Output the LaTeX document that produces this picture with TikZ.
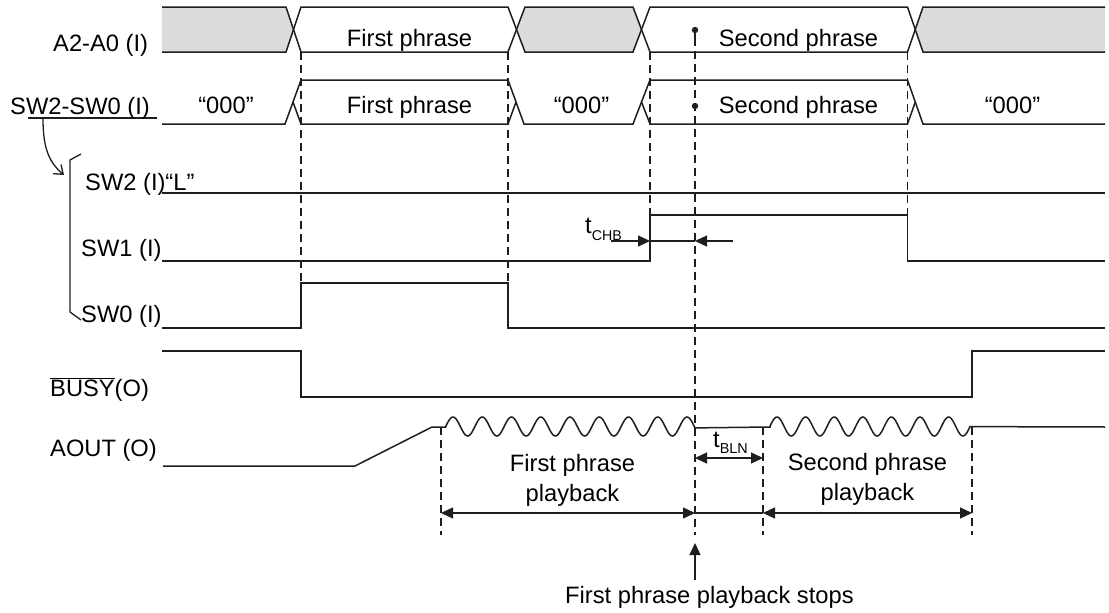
\documentclass[tikz,border=0pt]{standalone}
\usepackage{fontspec}
\setmainfont{Liberation Sans}
\usetikzlibrary{arrows.meta}
\definecolor{busgray}{RGB}{220,220,220}
\definecolor{ln}{RGB}{30,30,30}
\begin{document}
\begin{tikzpicture}[x=1pt,y=-1pt,
  sig/.style={draw=ln,line width=1.5pt,line join=miter},
  dsh/.style={draw=ln,line width=1.6pt,dash pattern=on 8pt off 5pt},
  txt/.style={inner sep=0pt,font=\fontsize{23.7}{30}\selectfont,text=black},
  lbl/.style={txt,anchor=base west},
  mid/.style={txt,anchor=base},
  dim/.style={draw=ln,line width=1.3pt},
  tipR/.style={-{Triangle[length=12pt,width=11pt]}},
  tipB/.style={{Triangle[length=12pt,width=11pt]}-{Triangle[length=12pt,width=11pt]}},
]
\useasboundingbox (0,0) rectangle (1109,613);

% ---- A2-A0 bus ----
\fill[busgray] (162,7) -- (286,7) -- (293.5,29.5) -- (286,52) -- (162,52) -- cycle;
\fill[busgray] (516.5,29.5) -- (525,7) -- (633,7) -- (641.5,29.5) -- (633,52) -- (525,52) -- cycle;
\fill[busgray] (915,29.5) -- (923,7) -- (1105,7) -- (1105,52) -- (923,52) -- cycle;
\draw[sig] (162,7) -- (286,7) -- (301,52) -- (508,52) -- (525,7) -- (633,7) -- (650,52) -- (907.5,52) -- (923,7) -- (1105,7);
\draw[sig] (162,52) -- (286,52) -- (301,7) -- (508,7) -- (525,52) -- (633,52) -- (650,7) -- (907.5,7) -- (923,52) -- (1105,52);

% ---- SW2-SW0 bus ----
\draw[sig] (162,124) -- (285,124) -- (301,80) -- (508,80) -- (524,124) -- (633,124) -- (650,80) -- (907.5,80) -- (923,124) -- (1105,124);
\draw[sig] (293,102) -- (301,124) -- (508,124) -- (516,102);
\draw[sig] (641.5,102) -- (650,124) -- (907.5,124) -- (915.3,102);

% ---- single signals ----
\draw[sig] (162,193) -- (1105,193);
\draw[sig] (162,261) -- (650,261) -- (650,215) -- (907.5,215) -- (907.5,261) -- (1105,261);
\draw[sig] (162,328) -- (301,328) -- (301,283) -- (508,283) -- (508,328) -- (1105,328);
\draw[sig] (162,351) -- (301,351) -- (301,397) -- (972,397) -- (972,351) -- (1105,351);

% ---- AOUT ----
\draw[sig] (163,466) -- (355,466) -- (432,427) -- (445.7,427)
  -- plot[domain=445.7:695,samples=220] ({\x},{426.5-9.5*cos(12.3077*(\x-453))})
  -- (770,427)
  -- plot[domain=770:970,samples=180] ({\x},{426.5-9.5*cos(12.5874*(\x-777))})
  -- (1105,427);

% ---- dashed guides ----
\draw[dsh] (301,52) -- (301,283);
\draw[dsh] (508,52) -- (508,283);
\draw[dsh] (650,52) -- (650,215);
\draw[dsh] (907.5,52) -- (907.5,215);
\draw[sig] (695,30) -- (695,38);
\draw[dsh] (695,38) -- (695,535);
\draw[dsh] (441,427) -- (441,535);
\draw[dsh] (763,427) -- (763,535);
\draw[dsh] (972,427) -- (972,535);
\fill[ln] (695,30) circle[radius=3.2pt];
\fill[ln] (695,106) circle[radius=3.2pt];

% ---- coordinates for dimension arrows ----
\coordinate (chbA) at (611,241);
\coordinate (chbB) at (650,241);
\coordinate (chbC) at (695,241);
\coordinate (chbD) at (733,241);
\coordinate (blnA) at (695,458);
\coordinate (blnB) at (763,458);
\coordinate (pb1) at (441,513);
\coordinate (pb2) at (695,513);
\coordinate (pb3) at (763,513);
\coordinate (pb4) at (972,513);
\coordinate (upT) at (695,543);
\coordinate (upB) at (695,580);

\draw[dim,tipR] (chbA) -- (chbB);
\draw[dim] (chbB) -- (chbC);
\draw[dim,tipR] (chbD) -- (chbC);
\draw[dim,tipB] (blnA) -- (blnB);
\draw[dim,tipB] (pb1) -- (pb2);
\draw[dim] (pb2) -- (pb3);
\draw[dim,tipB] (pb3) -- (pb4);
\draw[dim,tipR] (upB) -- (upT);

% ---- bracket and curved arrow ----
\coordinate (ulA) at (28,118);
\coordinate (ulB) at (157,118);
\coordinate (cvA) at (43,119);
\coordinate (cvB) at (64,175);
\draw[dim] (ulA) -- (ulB);
\draw[dim,-{Straight Barb[length=8pt,width=12pt]}] (cvA) .. controls (43,150) and (50,163) .. (cvB);
\draw[dim] (81,154) -- (70,160) -- (70,312) -- (81,320);

% ---- labels ----
\node[lbl] (lA)  at (53,51)  {A2-A0 (I)};
\node[lbl] (lSW) at (10,114) {SW2-SW0 (I)};
\node[lbl] (lS2) at (85,190) {SW2 (I)“L”};
\node[lbl] (lS1) at (81,256) {SW1 (I)};
\node[lbl] (lS0) at (81,322) {SW0 (I)};
\node[lbl] (lB)  at (50,396) {$\overline{\mbox{BUSY}}$(O)};
\node[lbl] (lO)  at (50,456) {AOUT (O)};

\node[mid] (b1) at (409.5,46) {First phrase};
\node[mid] (b2) at (798.5,46) {Second phrase};
\node[mid] (b3) at (226,113) {“000”};
\node[mid] (b4) at (409.5,113) {First phrase};
\node[mid] (b5) at (581.5,113) {“000”};
\node[mid] (b6) at (798.5,113) {Second phrase};
\node[mid] (b7) at (1012.5,113) {“000”};

\node[txt,align=center] (p1) at (572.5,480.5) {First phrase\\playback};
\node[txt,align=center] (p2) at (867.5,479) {Second phrase\\playback};
\node[lbl] (st) at (565,603) {First phrase playback stops};

\node[lbl] (tc) at (585,233) {t\raisebox{-7pt}{\fontsize{14.2}{16}\selectfont CHB}};
\node[lbl] (tb) at (713,447) {t\raisebox{-6pt}{\fontsize{14.4}{16}\selectfont BLN}};
\end{tikzpicture}
\end{document}
